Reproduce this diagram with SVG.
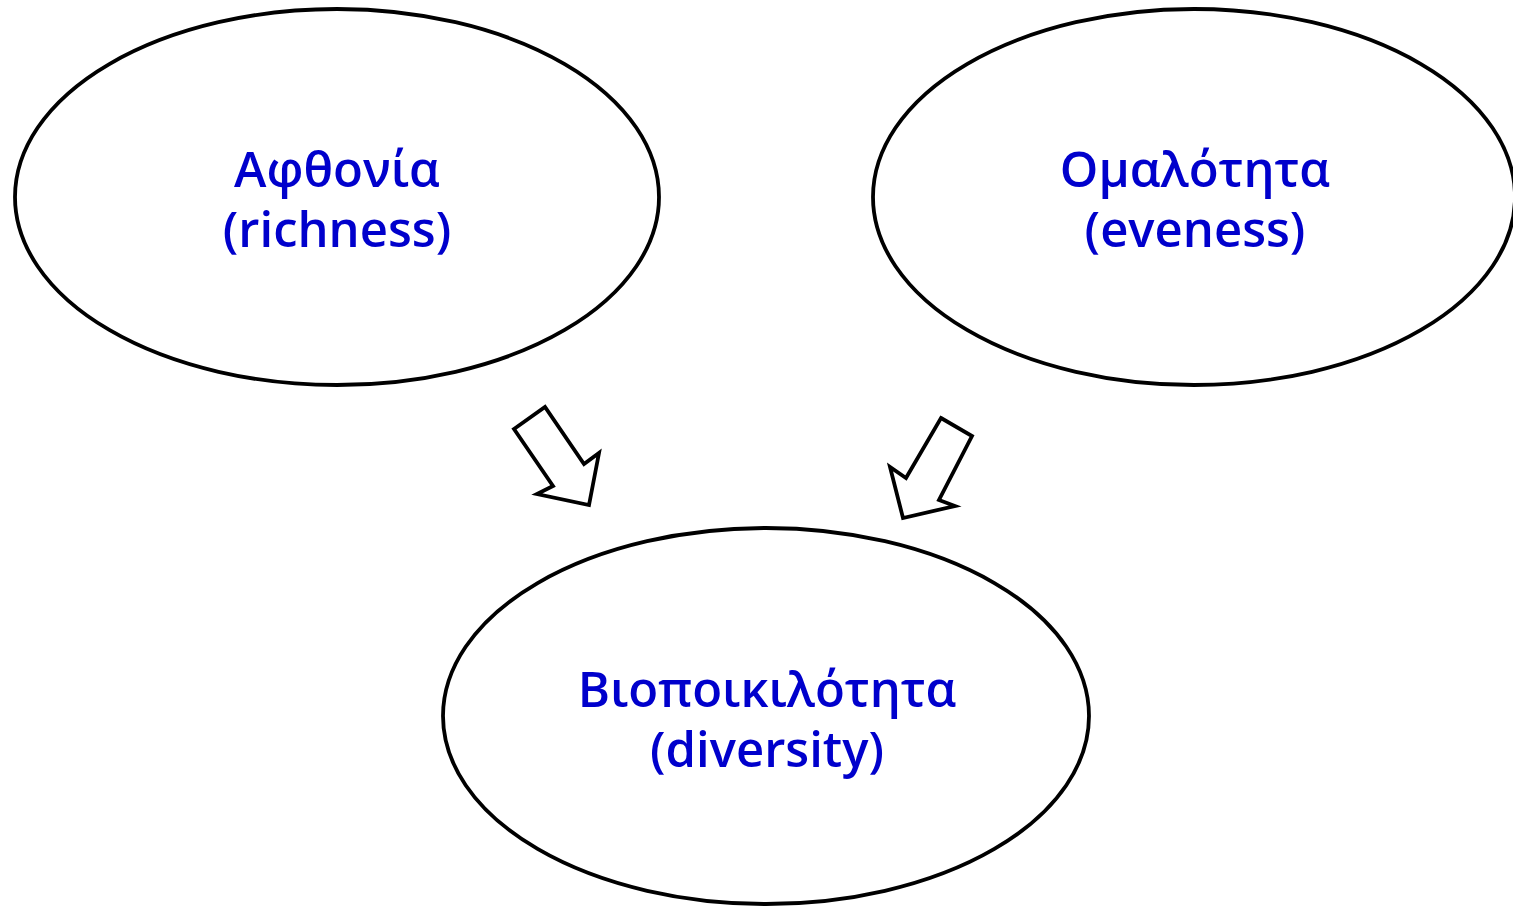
<svg xmlns="http://www.w3.org/2000/svg" width="1513" height="906" viewBox="0 0 1513 906">
<style>
.node{fill:#ffffff;stroke:#000000;stroke-width:3.8}
.lbl{font-family:"Open Sans","Noto Sans","DejaVu Sans",sans-serif;font-weight:600;font-size:49px;fill:#0000CC;text-anchor:middle}
.arr{fill:#ffffff;stroke:#000000;stroke-width:3.8;stroke-linejoin:miter}
</style>
<rect width="1513" height="906" fill="#ffffff"/>
<g id="richness">
<ellipse class="node" cx="337" cy="197" rx="322" ry="188"/>
<text class="lbl" x="337" y="187">Αφθονία</text>
<text class="lbl" x="337" y="247">(richness)</text>
</g>
<g id="evenness">
<ellipse class="node" cx="1194" cy="197" rx="321" ry="188"/>
<text class="lbl" x="1195" y="187">Ομαλότητα</text>
<text class="lbl" x="1195" y="247">(eveness)</text>
</g>
<g id="diversity">
<ellipse class="node" cx="766" cy="716" rx="323" ry="188"/>
<text class="lbl" x="767" y="707">Βιοποικιλότητα</text>
<text class="lbl" x="767" y="767">(diversity)</text>
</g>
<g id="connectors">
<polygon class="arr" points="514,429 545,407 584,464 599,453 589,505 537,494 553,486"/>
<polygon class="arr" points="941,418 972,436 939,500 955,506 903,518 890,467 906,478"/>
</g>
</svg>
